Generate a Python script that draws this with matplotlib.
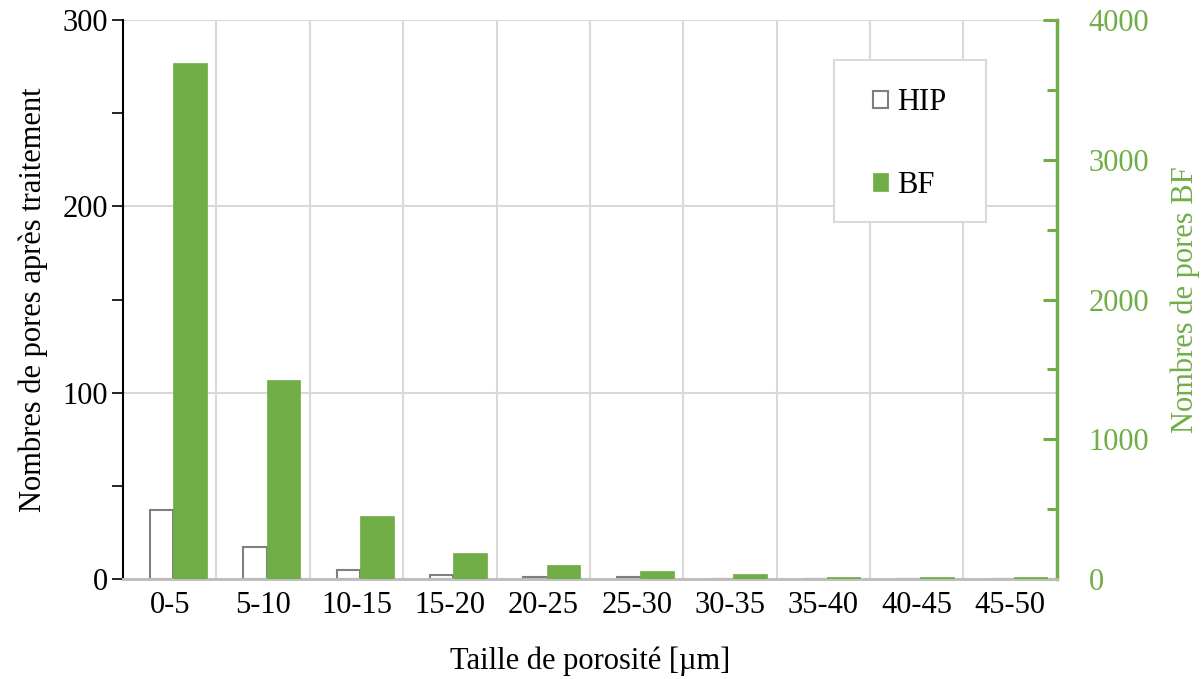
import numpy as np
import matplotlib
matplotlib.use("Agg")
import matplotlib.pyplot as plt
from matplotlib.patches import Rectangle
from matplotlib.ticker import MultipleLocator

categories = ["0-5", "5-10", "10-15", "15-20", "20-25", "25-30", "30-35", "35-40", "40-45", "45-50"]
hip_values = [37, 17, 5, 2, 1, 1, 0, 0, 0, 0]
bf_values = [3690, 1422, 449, 184, 103, 57, 34, 12, 12, 12]

GREEN = "#70AD47"
GRID = "#D9D9D9"
FS = 22

plt.rcParams['font.family'] = ['Liberation Serif', 'DejaVu Serif']
plt.rcParams['font.size'] = FS

fig = plt.figure(figsize=(12.01, 6.79), dpi=100)
ax = fig.add_axes([0.1024, 0.1473, 0.7776, 0.8232])
ax2 = ax.twinx()

x = np.arange(len(categories))
ax.bar(x - 0.088, hip_values, width=0.25, facecolor="white", edgecolor="#7F7F7F",
       linewidth=1.5, zorder=3, label="HIP")
ax2.bar(x + 0.217, bf_values, width=0.36, facecolor=GREEN, edgecolor=GREEN,
        linewidth=0.5, zorder=3, label="BF")

ax.set_xlim(-0.5, len(categories) - 0.5)
ax.set_ylim(0, 300)
ax2.set_ylim(0, 4000)

ax.set_xticks(x)
ax.set_xticklabels(categories)
ax.set_xticks(np.arange(0.5, len(categories) - 0.5, 1), minor=True)
ax.tick_params(axis='x', which='both', length=0, pad=9)

ax.yaxis.set_major_locator(MultipleLocator(100))
ax.yaxis.set_minor_locator(MultipleLocator(50))
ax.tick_params(axis='y', which='major', direction='out', length=8, width=1.2, pad=3, colors='black')
ax.tick_params(axis='y', which='minor', direction='out', length=8, width=1.2)

ax2.yaxis.set_major_locator(MultipleLocator(1000))
ax2.yaxis.set_minor_locator(MultipleLocator(500))
ax2.tick_params(axis='y', which='major', direction='in', length=10, width=2.2, pad=23,
                colors=GREEN, labelcolor=GREEN)
ax2.tick_params(axis='y', which='minor', direction='in', length=7, width=2.2, colors=GREEN)

ax.grid(which='minor', axis='x', color=GRID, linewidth=1.5, zorder=0)
ax.grid(which='major', axis='y', color=GRID, linewidth=1.5, zorder=0)
ax.set_axisbelow(True)

for a in (ax, ax2):
    a.spines['top'].set_visible(False)
    a.spines['bottom'].set_color("#BFBFBF")
    a.spines['bottom'].set_linewidth(2)
ax.spines['left'].set_color('black')
ax.spines['left'].set_linewidth(1.5)
ax.spines['right'].set_visible(False)
ax2.spines['left'].set_visible(False)
ax2.spines['right'].set_color(GREEN)
ax2.spines['right'].set_linewidth(2.5)

ax.set_xlabel("Taille de porosité [µm]", labelpad=19)
ax.set_ylabel("Nombres de pores après traitement", labelpad=10)
ax2.set_ylabel("Nombres de pores BF", color=GREEN, labelpad=15)

# legend box
ax2.add_patch(Rectangle((0.761, 0.639), 0.163, 0.289, transform=ax2.transAxes,
                        facecolor="white", edgecolor=GRID, linewidth=1.5, zorder=4))
h1, l1 = ax.get_legend_handles_labels()
h2, l2 = ax2.get_legend_handles_labels()
leg = ax2.legend(h1 + h2, l1 + l2, loc='center', bbox_to_anchor=(0.8426, 0.778),
                 frameon=False, handlelength=0.5, handleheight=0.5,
                 handletextpad=0.3, labelspacing=1.75, fontsize=FS)
leg.set_zorder(5)

fig.savefig("out.png", dpi=100)
